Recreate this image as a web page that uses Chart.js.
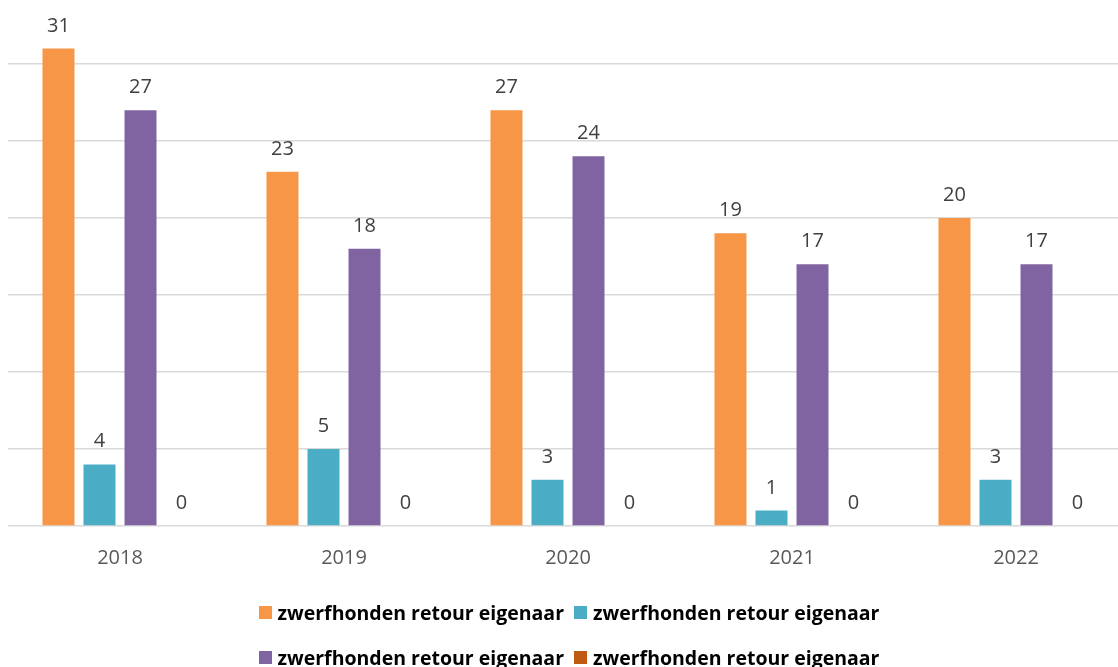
<!DOCTYPE html>
<html>
<head>
<meta charset="utf-8">
<script src="https://cdn.jsdelivr.net/npm/chart.js@4/dist/chart.umd.min.js"></script>
<style>
  html, body { margin: 0; padding: 0; background: #fff; overflow: hidden; }
  #wrap { width: 1128px; height: 667px; position: relative; }
  .legend-row {
    position: absolute; left: 10px; width: 1118px; height: 26px;
    display: flex; justify-content: center; align-items: center;
    font: bold 19.5px 'Open Sans'; color: #000; white-space: nowrap;
  }
  .legend-item { display: flex; align-items: center; margin: 0 5px; }
  .legend-item span.box { width: 13px; height: 13px; margin-right: 6px; display: inline-block; }
</style>
</head>
<body>
<div id="wrap">
  <canvas id="chart"></canvas>
  <div class="legend-row" id="row1" style="top:599px"></div>
  <div class="legend-row" id="row2" style="top:644px"></div>
</div>
<script>
const years = ["2018", "2019", "2020", "2021", "2022"];
const seriesNames = [
  "zwerfhonden retour eigenaar",
  "zwerfhonden retour eigenaar",
  "zwerfhonden retour eigenaar",
  "zwerfhonden retour eigenaar"
];
const seriesA = [31, 23, 27, 19, 20];
const seriesB = [4, 5, 3, 1, 3];
const seriesC = [27, 18, 24, 17, 17];
const seriesD = [0, 0, 0, 0, 0];
const colors = ["#F79646", "#4BACC6", "#8064A2", "#C05A11"];

// value labels above each bar, Excel style
const valueLabels = {
  id: "valueLabels",
  afterDatasetsDraw(chart) {
    const ctx = chart.ctx;
    ctx.save();
    ctx.font = "20px 'Open Sans'";
    ctx.fillStyle = "#404040";
    ctx.textAlign = "center";
    ctx.textBaseline = "alphabetic";
    chart.data.datasets.forEach((ds, i) => {
      chart.getDatasetMeta(i).data.forEach((bar, j) => {
        ctx.fillText(String(ds.data[j]), bar.x, bar.y - 17);
      });
    });
    ctx.restore();
  }
};

document.addEventListener("DOMContentLoaded", function () {
  const ctx = document.getElementById("chart").getContext("2d");
  const values = [seriesA, seriesB, seriesC, seriesD];
  const chart = new Chart(ctx, {
    type: "bar",
    data: {
      labels: years,
      datasets: values.map((v, i) => ({
        label: seriesNames[i],
        data: v,
        backgroundColor: colors[i],
        categoryPercentage: 0.7325,
        barPercentage: 0.78
      }))
    },
    options: {
      responsive: true,
      maintainAspectRatio: false,
      animation: false,
      layout: { padding: { left: 8, top: 0, right: 0, bottom: 88 } },
      plugins: {
        tooltip: { enabled: false },
        legend: { display: false }
      },
      scales: {
        x: {
          grid: { display: false, drawTicks: false },
          border: { display: false },
          ticks: { color: "#595959", font: { family: "'Open Sans'", size: 20 }, padding: 20 },
          afterFit(scale) { scale.height = 53; }
        },
        y: {
          min: 0,
          max: 34.15,
          grid: { color: "#D9D9D9", lineWidth: 1.5, drawTicks: false },
          border: { display: false },
          ticks: { display: false, stepSize: 5, includeBounds: false }
        }
      }
    },
    plugins: [valueLabels]
  });

  // legend in two rows of two, like the original
  const rows = [document.getElementById("row1"), document.getElementById("row2")];
  chart.data.datasets.forEach((ds, i) => {
    const item = document.createElement("div");
    item.className = "legend-item";
    const box = document.createElement("span");
    box.className = "box";
    box.style.background = ds.backgroundColor;
    item.appendChild(box);
    item.appendChild(document.createTextNode(ds.label));
    rows[i < 2 ? 0 : 1].appendChild(item);
  });
});
</script>
</body>
</html>
